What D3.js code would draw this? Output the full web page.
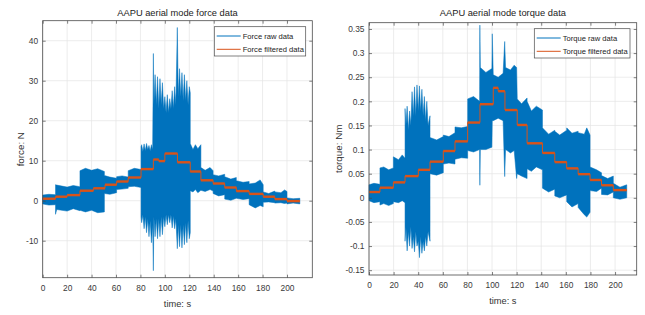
<!DOCTYPE html>
<html>
<head>
<meta charset="utf-8">
<script src="https://cdn.jsdelivr.net/npm/d3@7"></script>
<style>
  html, body { margin: 0; padding: 0; background: #fff; }
  text { font-family: "Liberation Sans", Arial, sans-serif; }
</style>
</head>
<body>
<svg id="chart" width="645" height="315"></svg>
<script>
// AAPU aerial mode: force and torque, raw (envelope) + filtered steps.

const timeTicks = [0, 20, 40, 60, 80, 100, 120, 140, 160, 180, 200];
const forceTicks = [-10, 0, 10, 20, 30, 40];
const torqueTicks = [-0.15, -0.1, -0.05, 0, 0.05, 0.1, 0.15, 0.2, 0.25, 0.3, 0.35];

// force raw data, drawn as its min/max envelope over time
const forceRawT  = [0, 5, 10.5, 10.5, 11.5, 20, 25, 30.5, 30.5, 35, 40, 45, 50.5, 50.5, 55, 60.5, 60.5, 65, 70, 70, 75, 80.5,
  80.5, 81, 82, 83, 84, 85, 86, 87, 88, 89, 90, 90.6, 91, 92, 93, 94, 95, 96, 97, 98, 99,
  100, 101, 102, 103, 104, 105, 106, 107, 108, 109, 110.2, 111, 112, 113, 114, 115, 116, 117, 118, 119, 120, 120.8,
  120.8, 123, 125, 127, 129.5, 129.5, 133, 137, 139.5, 139.5, 144, 149,
  149, 154, 158.5, 158.5, 164, 169, 169, 174, 178, 180.5, 180.5, 185, 190, 190, 195, 198, 200, 200, 205, 210.5];
const forceRawLo = [-0.8, -1.1, -1.0, -3.4, -2.2, -2.6, -2.0, -2.5, -2.4, -2.8, -2.4, -3.0, -2.8, 1.8, 1.6, 2.0, 2.8, 2.9, 3.1, 3.5, 3.6, 3.3,
  -4.0, -5.5, -3.5, -7.0, -4.0, -8.0, -4.5, -9.0, -5.0, -10.5, -6.0, -17.5, -4.0, -9.0, -4.5, -9.5, -4.5, -9.0, -4.0, -8.5, -4.0,
  -6.5, -3.5, -6.0, -3.5, -5.5, -3.5, -6.8, -3.8, -7.0, -4.5, -12.0, -6.0, -11.5, -6.0, -11.8, -6.0, -11.0, -5.5, -10.5, -5.0, -9.5, -8.0,
  2.5, 2.2, 2.8, 2.0, 2.6, 2.6, 2.3, 2.8, 2.4, 1.8, 1.2, 1.5,
  0.4, 0.1, 0.6, 0.6, 0.3, 0.5, -1.0, -1.8, -1.2, -1.5, -0.4, -0.3, -0.5, -0.6, -0.5, -0.7, -0.6, -0.8, -0.6, -0.8];
const forceRawHi = [1.4, 1.6, 1.5, 4.0, 3.9, 3.4, 3.8, 3.5, 7.5, 8.1, 7.6, 8.0, 7.3, 6.3, 5.9, 5.6, 6.0, 6.2, 5.9, 7.5, 8.1, 7.8,
  13.5, 14.0, 12.3, 14.2, 12.5, 14.3, 12.8, 13.8, 12.4, 14.0, 12.8, 36.8, 24, 31.5, 24, 31, 23, 30.5, 24, 29.5, 23,
  26, 22, 26.5, 22, 25.5, 23, 27.5, 23, 28.5, 24, 43.3, 26, 33, 26, 32, 25, 31.5, 25, 30, 24, 28.5, 27,
  14.3, 12.8, 14.0, 13.0, 14.0, 8.3, 7.6, 8.3, 7.5, 6.5, 6.2, 6.6,
  6.0, 5.4, 5.8, 5.0, 4.6, 4.8, 4.2, 4.4, 5.2, 4.0, 2.2, 1.8, 2.4, 2.2, 2.0, 2.7, 2.3, 0.7, 0.5, 0.6];

const forceFiltT = [0, 10.5, 20, 30.5, 41.5, 51, 60.5, 70, 80.5, 90.6, 95, 100, 110.3, 120.8, 129.5, 139.5, 149, 158.5, 169, 180.5, 190, 200, 210.5];
const forceFiltV = [0.5, 1.0, 1.4, 2.5, 3.1, 4.0, 4.8, 5.8, 7.9, 10.3, 9.9, 11.8, 9.6, 7.3, 5.1, 4.3, 3.3, 2.4, 1.7, 1.0, 0.4, -0.1, -0.1];

// torque raw data envelope
const torqueRawT  = [0, 4, 8.9, 8.9, 12, 16, 19.8, 19.8, 24, 27, 29.3,
  29.3, 30, 31, 32, 33, 34, 35, 36, 37, 38, 39, 40.1, 41, 42, 43, 44, 45, 46, 47, 48, 49.6,
  49.6, 55, 60.4, 60.4, 65, 69.9, 69.9, 75, 80.2, 80.2, 85, 89.9, 90.1, 90.5, 95, 99.9, 100.2, 101, 105, 109, 110.3, 111, 115, 118,
  120, 120.5, 124, 128.5, 128.5, 132, 136, 141, 141, 146, 151, 151, 155, 160.7, 160.7, 165, 170, 170, 175, 177, 179.7,
  179.7, 185, 189, 189, 194, 198.6, 198.6, 204, 209.5];
const torqueRawLo = [-0.006, -0.01, -0.008, -0.015, -0.012, -0.016, -0.012, -0.008, -0.01, -0.006, -0.01,
  -0.09, -0.06, -0.11, -0.07, -0.1, -0.06, -0.105, -0.08, -0.112, -0.07, -0.1, -0.09, -0.124, -0.08, -0.115, -0.09, -0.11, -0.08, -0.1, -0.07, -0.09,
  0.05, 0.047, 0.052, 0.07, 0.072, 0.07, 0.08, 0.083, 0.082, 0.098, 0.095, 0.1, 0.026, 0.1, 0.1, 0.105, 0.16, 0.16, 0.165, 0.16, 0.044, 0.1, 0.093, 0.098,
  0.04, 0.05, 0.045, 0.04, 0.06, 0.055, 0.064, 0.058, 0.02, 0.012, 0.018, 0.004, 0.0, 0.006, -0.008, -0.019, -0.012, -0.02, -0.035, -0.04, -0.03,
  0.015, 0.013, 0.02, 0.007, 0.006, 0.012, 0.0, -0.003, 0.0];
const torqueRawHi = [0.027, 0.03, 0.028, 0.062, 0.064, 0.058, 0.062, 0.085, 0.079, 0.089, 0.082,
  0.185, 0.15, 0.19, 0.14, 0.18, 0.15, 0.22, 0.17, 0.23, 0.17, 0.234, 0.18, 0.232, 0.18, 0.225, 0.17, 0.21, 0.16, 0.2, 0.15, 0.17,
  0.125, 0.12, 0.127, 0.13, 0.127, 0.135, 0.147, 0.145, 0.148, 0.205, 0.21, 0.2, 0.358, 0.27, 0.26, 0.268, 0.34, 0.255, 0.25, 0.258, 0.324, 0.27, 0.265, 0.275,
  0.27, 0.205, 0.195, 0.207, 0.2, 0.18, 0.19, 0.182, 0.145, 0.132, 0.14, 0.138, 0.13, 0.14, 0.145, 0.134, 0.138, 0.135, 0.132, 0.145, 0.13,
  0.064, 0.058, 0.052, 0.046, 0.04, 0.045, 0.03, 0.022, 0.027];

const torqueFiltT = [0, 8.9, 19.8, 29.3, 40.1, 49.6, 60.4, 69.9, 80.2, 90.2, 101, 105, 110.5, 120.5, 128.5, 141, 151, 160.7, 170, 179.7, 189, 198.6, 209.5];
const torqueFiltV = [0.012, 0.021, 0.032, 0.045, 0.058, 0.075, 0.097, 0.117, 0.156, 0.194, 0.228, 0.221, 0.182, 0.151, 0.113, 0.093, 0.074, 0.061, 0.049, 0.037, 0.026, 0.016, 0.016];

const rawColor = "#0072BD";
const filtColor = "#D95319";

const svg = d3.select("#chart");
svg.append("rect").attr("width", 645).attr("height", 315).attr("fill", "#fff");

function drawPanel(p) {
  const g = svg.append("g");
  const x = d3.scaleLinear().domain(p.xDomain).range([p.left, p.right]);
  const y = d3.scaleLinear().domain(p.yDomain).range([p.bottom, p.top]);

  // grid
  g.append("g").selectAll("line").data(timeTicks).join("line")
    .attr("x1", d => x(d)).attr("x2", d => x(d))
    .attr("y1", p.top).attr("y2", p.bottom)
    .attr("stroke", "#e4e4e4").attr("stroke-width", 0.7);
  g.append("g").selectAll("line").data(p.yTicks).join("line")
    .attr("y1", d => y(d)).attr("y2", d => y(d))
    .attr("x1", p.left).attr("x2", p.right)
    .attr("stroke", "#e4e4e4").attr("stroke-width", 0.7);

  // raw envelope
  const raw = p.rawT.map((t, i) => ({ t, lo: p.rawLo[i], hi: p.rawHi[i] }));
  g.append("path").datum(raw)
    .attr("d", d3.area().x(d => x(d.t)).y0(d => y(d.lo)).y1(d => y(d.hi)))
    .attr("fill", rawColor).attr("stroke", rawColor).attr("stroke-width", 0.5);

  // filtered steps: thin risers, thicker treads
  const filt = p.filtT.map((t, i) => ({ t, v: p.filtV[i] }));
  g.append("path").datum(filt)
    .attr("d", d3.line().curve(d3.curveStepAfter).x(d => x(d.t)).y(d => y(d.v)))
    .attr("fill", "none").attr("stroke", filtColor).attr("stroke-width", 1);
  g.append("g").selectAll("line").data(filt.slice(0, -1)).join("line")
    .attr("x1", d => x(d.t)).attr("x2", (d, i) => x(filt[i + 1].t))
    .attr("y1", d => y(d.v)).attr("y2", d => y(d.v))
    .attr("stroke", filtColor).attr("stroke-width", 2.4);

  // box
  g.append("rect")
    .attr("x", p.left).attr("y", p.top)
    .attr("width", p.right - p.left).attr("height", p.bottom - p.top)
    .attr("fill", "none").attr("stroke", "#4a4a4a").attr("stroke-width", 0.8);

  const styleAxis = a => {
    a.select(".domain").remove();
    a.selectAll(".tick line").attr("stroke", "#4a4a4a").attr("stroke-width", 0.7);
    a.selectAll(".tick text").attr("fill", "#3a3a3a").style("font-size", "8.4px")
      .style("font-family", '"Liberation Sans", Arial, sans-serif');
  };
  const yFmt = d => String(+d.toFixed(2));

  g.append("g").attr("transform", `translate(0,${p.bottom})`)
    .call(d3.axisBottom(x).tickValues(timeTicks).tickSize(-3).tickPadding(7).tickFormat(d3.format("d")))
    .call(styleAxis);
  g.append("g").attr("transform", `translate(0,${p.top})`)
    .call(d3.axisTop(x).tickValues(timeTicks).tickSize(-3).tickFormat(""))
    .call(styleAxis);
  g.append("g").attr("transform", `translate(${p.left},0)`)
    .call(d3.axisLeft(y).tickValues(p.yTicks).tickSize(-3).tickPadding(4.5).tickFormat(yFmt))
    .call(styleAxis);
  g.append("g").attr("transform", `translate(${p.right},0)`)
    .call(d3.axisRight(y).tickValues(p.yTicks).tickSize(-3).tickFormat(""))
    .call(styleAxis);

  const cx = (p.left + p.right) / 2;
  g.append("text").attr("x", cx).attr("y", 16)
    .attr("text-anchor", "middle").attr("fill", "#222").style("font-size", "9.3px")
    .text(p.title);
  g.append("text").attr("x", cx).attr("y", p.bottom + 29)
    .attr("text-anchor", "middle").attr("fill", "#333").style("font-size", "9.3px")
    .text("time: s");
  g.append("text")
    .attr("transform", `translate(${p.ylabelX},${(p.top + p.bottom) / 2}) rotate(-90)`)
    .attr("text-anchor", "middle").attr("fill", "#333").style("font-size", "9.8px")
    .text(p.ylabel);

  // legend
  const lg = g.append("g");
  lg.append("rect")
    .attr("x", p.legX).attr("y", p.top + 6)
    .attr("width", p.legW).attr("height", 29.3)
    .attr("fill", "#fff").attr("stroke", "#4a4a4a").attr("stroke-width", 0.7);
  const items = [{ label: p.names[0], color: rawColor }, { label: p.names[1], color: filtColor }];
  items.forEach((it, i) => {
    const ly = p.top + 15.3 + i * 13.3;
    lg.append("line")
      .attr("x1", p.legX + 2.4).attr("x2", p.legX + 26.4)
      .attr("y1", ly).attr("y2", ly)
      .attr("stroke", it.color).attr("stroke-width", 1);
    lg.append("text").attr("x", p.legX + 28.4).attr("y", ly + 2.7)
      .attr("fill", "#222").style("font-size", "7.6px")
      .text(it.label);
  });
}

drawPanel({
  left: 42.7, right: 312.3, top: 20.7, bottom: 277.7,
  xDomain: [0, 220.7], yDomain: [-19.25, 45], yTicks: forceTicks,
  rawT: forceRawT, rawLo: forceRawLo, rawHi: forceRawHi,
  filtT: forceFiltT, filtV: forceFiltV,
  title: "AAPU aerial mode force data", ylabel: "force: N", ylabelX: 24,
  names: ["Force raw data", "Force filtered data"], legX: 214.3, legW: 91.4
});

drawPanel({
  left: 369, right: 636.7, top: 22.7, bottom: 275,
  xDomain: [0, 217.6], yDomain: [-0.16, 0.363], yTicks: torqueTicks,
  rawT: torqueRawT, rawLo: torqueRawLo, rawHi: torqueRawHi,
  filtT: torqueFiltT, filtV: torqueFiltV,
  title: "AAPU aerial mode torque data", ylabel: "torque: Nm", ylabelX: 341.5,
  names: ["Torque raw data", "Torque filtered data"], legX: 534.3, legW: 95.7
});
</script>
</body>
</html>
